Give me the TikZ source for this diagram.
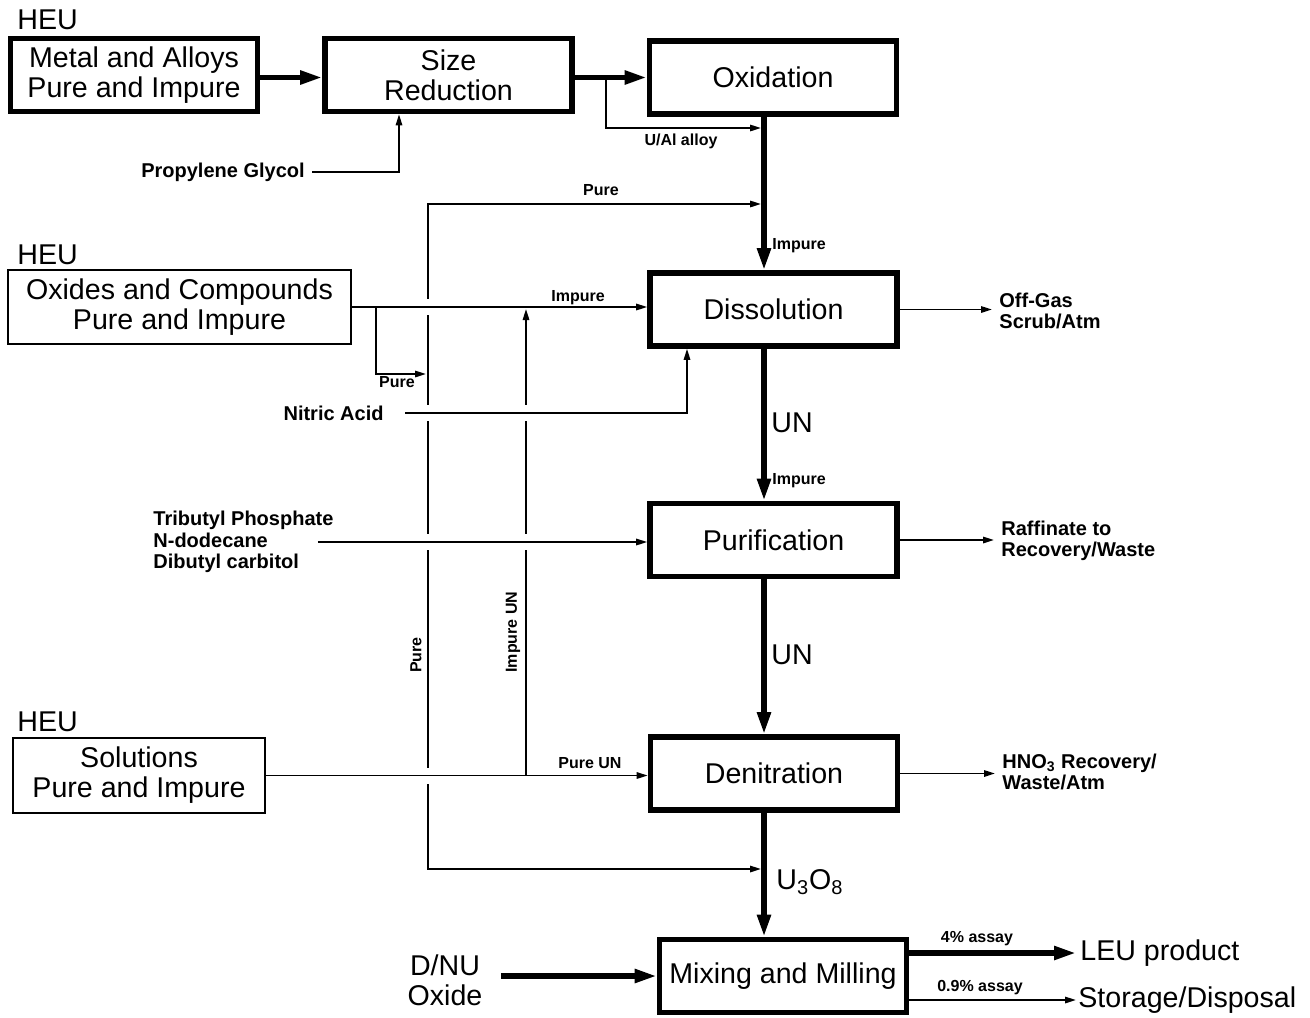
\documentclass[tikz,border=0pt]{standalone}
\usepackage{fontspec}
\setmainfont{Liberation Sans}
\usetikzlibrary{arrows.meta}
\newcommand{\boxfont}{\fontsize{14.3}{15}\selectfont}
\newcommand{\sidefont}{\fontsize{10}{10.8}\selectfont\bfseries}
\newcommand{\tagfont}{\fontsize{8}{9}\selectfont\bfseries}
\begin{document}
\begin{tikzpicture}[x=0.5pt,y=-0.5pt,
  every node/.style={inner sep=0pt},
  unit/.style={draw,line width=2.8pt,minimum width=123.5pt,minimum height=36.5pt,align=center,font=\boxfont},
  feed/.style={draw,line width=0.9pt,align=center,font=\boxfont},
  side/.style={align=left,font=\sidefont},
  tag/.style={font=\tagfont},
  big/.style={font=\boxfont},
  main/.style={line width=2.6pt,-{Triangle[length=11pt,width=6.5pt]}},
  flow/.style={line width=0.9pt,-{Triangle[length=5.5pt,width=3.2pt]}},
  over/.style={preaction={draw=white,line width=8pt,-,shorten <=7pt,shorten >=7pt}}]
\path[fill=white,use as bounding box] (0,0) rectangle (1310,1017);

\node[unit] (metal) at (134,75) {Metal and Alloys\\Pure and Impure};
\node[unit] (size) at (448.5,75) {Size\\Reduction};
\node[unit] (oxid) at (773,77.5) {Oxidation};
\node[feed,minimum width=171.5pt,minimum height=37pt] (oxides) at (179.5,307) {Oxides and Compounds\\Pure and Impure};
\node[unit] (dissol) at (773.5,309.5) {Dissolution};
\node[unit] (purif) at (773.5,540) {Purification};
\node[feed,minimum width=126pt,minimum height=37.5pt] (solut) at (139,775.5) {Solutions\\Pure and Impure};
\node[unit] (denit) at (774,773.5) {Denitration};
\node[unit] (mix) at (783,976) {Mixing and Milling};

\node[big,anchor=west] (heuA) at (17,20) {HEU};
\node[big,anchor=west] (heuB) at (17,255) {HEU};
\node[big,anchor=west] (heuC) at (17,722) {HEU};

\node[side] (pg) at (223,172) {Propylene Glycol};
\node[side,anchor=east] (nitric) at (384,413) {Nitric Acid};
\node[side,anchor=west] (tbp) at (153,542) {Tributyl Phosphate\\N-dodecane\\Dibutyl carbitol};
\node[side,anchor=west] (offgas) at (999,311) {Off-Gas\\Scrub/Atm};
\node[side,anchor=west] (raff) at (1001,541) {Raffinate to\\Recovery/Waste};
\node[side,anchor=west] (hno) at (1002,772) {HNO\textsubscript{3} Recovery/\\Waste/Atm};
\node[big,align=center] (dnu) at (445,980) {D/NU\\Oxide};
\node[big,anchor=west] (leu) at (1080,953) {LEU product};
\node[big,anchor=west] (store) at (1078,1000) {Storage/Disposal};

\coordinate (spine) at (764,0);
\coordinate (spineL) at (761,0);
\coordinate (ualfork) at (606,77.5);
\coordinate (ualjoin) at (761,128);
\coordinate (puretop) at (428,204);
\coordinate (purebot) at (428,869);
\coordinate (purefork) at (376,307);
\coordinate (purein) at (426,374);
\coordinate (impfork) at (526,775.5);
\coordinate (impjoin) at (526,309);

\draw[main] (metal.east |- oxid.west) -- (size.west |- oxid.west);
\draw[main] (size.east |- oxid.west) -- (oxid.west);
\draw[main] (oxid.south -| spine) -- (dissol.north -| spine);
\draw[main] (dissol.south -| spine) -- (purif.north -| spine);
\draw[main] (purif.south -| spine) -- (denit.north -| spine);
\draw[main] (denit.south -| spine) -- (mix.north -| spine);
\draw[flow] ([xshift=3.5pt]pg.east) -| ([xshift=-24.75pt]size.south);
\draw[flow] (ualfork) |- (ualjoin);

\draw[flow] (purebot) |- (puretop -| spineL);
\draw[flow] (puretop) |- (purebot -| spineL);
\draw[flow,over] (oxides.east) -- (oxides.east -| dissol.west);
\draw[flow,over] (solut.east) -- (solut.east -| denit.west);
\draw[flow] (purefork) |- (purein);
\draw[flow] (impfork) -- (impjoin);
\draw[flow,over] ([xshift=10.5pt]nitric.east) -| ([xshift=-43.25pt]dissol.south);
\draw[flow,over] ([xshift=-8pt]tbp.east) -- (tbp.east -| purif.west);

\draw[flow,shorten >=3.5pt] (dissol.east) -- (dissol.east -| offgas.west);
\draw[flow,shorten >=3.5pt] (purif.east) -- (purif.east -| raff.west);
\draw[flow,shorten >=3.5pt] (denit.east) -- (denit.east -| hno.west);
\draw[main] (mix.west -| dnu.east) ++(9pt,0) -- (mix.west);
\draw[main,shorten >=2pt] (mix.east |- leu.west) -- (leu.west);
\draw[flow,shorten >=1pt] (mix.east |- store.west) -- (store.west);

\node[tag] (ualtag) at (681,141) {U/Al alloy};
\node[tag] (puretagA) at (601,190) {Pure};
\node[tag,anchor=west] (imptagA) at (772,246) {Impure};
\node[tag] (imptagB) at (578,298) {Impure};
\node[tag] (puretagB) at (397,382) {Pure};
\node[big,anchor=west] (unA) at (771,423) {UN};
\node[tag,anchor=west] (imptagC) at (772,481) {Impure};
\node[big,anchor=west] (unB) at (771,655) {UN};
\node[tag,rotate=90] (puretagC) at (416,655) {Pure};
\node[tag,rotate=90] (imptagD) at (513,632) {Impure UN};
\node[tag] (pureuntag) at (590,763) {Pure UN};
\node[big,anchor=west] (uo) at (776,882) {U\textsubscript{3}O\textsubscript{8}};
\node[tag] (assayA) at (977,939) {4\% assay};
\node[tag] (assayB) at (980,988) {0.9\% assay};
\end{tikzpicture}
\end{document}
